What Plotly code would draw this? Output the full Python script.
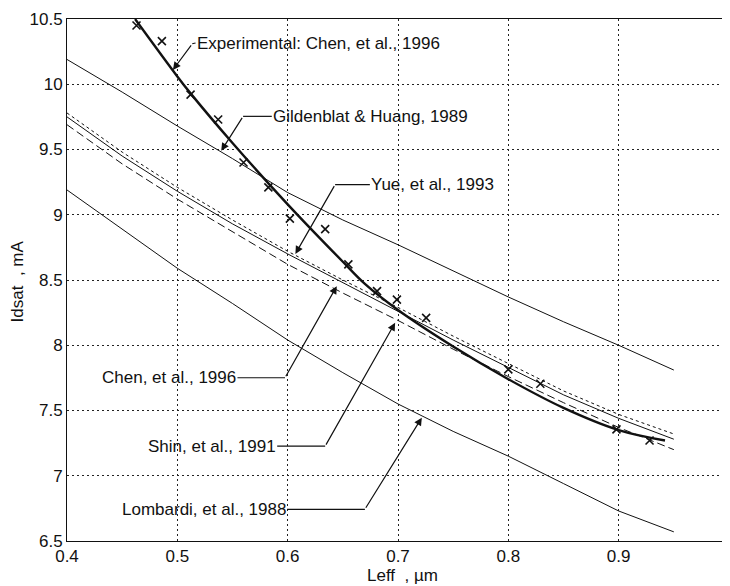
import plotly.graph_objects as go

# ---- data ----
x_model = [0.40, 0.45, 0.50, 0.55, 0.60, 0.65, 0.70, 0.75, 0.80, 0.85, 0.90, 0.95]
gildenblat = [10.19, 9.94, 9.68, 9.43, 9.17, 8.96, 8.77, 8.57, 8.37, 8.18, 8.00, 7.81]
yue = [9.78, 9.48, 9.21, 8.96, 8.72, 8.50, 8.29, 8.07, 7.86, 7.65, 7.47, 7.32]
chen = [9.75, 9.45, 9.18, 8.93, 8.70, 8.48, 8.26, 8.04, 7.83, 7.62, 7.44, 7.28]
shin = [9.69, 9.39, 9.12, 8.87, 8.62, 8.40, 8.19, 7.97, 7.76, 7.56, 7.37, 7.20]
lombardi = [9.19, 8.89, 8.59, 8.32, 8.04, 7.79, 7.55, 7.34, 7.15, 6.94, 6.73, 6.57]

fit_x = [0.4617, 0.50, 0.512, 0.55, 0.60, 0.65, 0.67, 0.70, 0.75, 0.80, 0.85, 0.90, 0.942]
fit_y = [10.5, 10.06, 9.93, 9.55, 9.08, 8.64, 8.47, 8.27, 7.99, 7.74, 7.52, 7.35, 7.27]

exp_x = [0.463, 0.486, 0.512, 0.537, 0.560, 0.5825, 0.602, 0.634, 0.655, 0.681,
         0.699, 0.7255, 0.800, 0.829, 0.898, 0.928]
exp_y = [10.45, 10.33, 9.92, 9.73, 9.40, 9.21, 8.97, 8.89, 8.62, 8.415,
         8.35, 8.21, 7.815, 7.705, 7.355, 7.27]

x_ticks = [0.4, 0.5, 0.6, 0.7, 0.8, 0.9, 1.0]
x_ticktext = ["0.4", "0.5", "0.6", "0.7", "0.8", "0.9", "1"]
y_ticks = [6.5, 7, 7.5, 8, 8.5, 9, 9.5, 10, 10.5]
y_ticktext = ["6.5", "7", "7.5", "8", "8.5", "9", "9.5", "10", "10.5"]

# label texts, text anchor, bend point and arrow tip
labels = [
    dict(text="Experimental: Chen, et al., 1996", side="left", tx=0.5165, ty=10.316,
         bx=0.5135, by=10.31, px=0.496, py=10.11),
    dict(text="Gildenblat & Huang, 1989", side="left", tx=0.5856, ty=9.754,
         bx=0.5596, by=9.754, px=0.5398, py=9.49),
    dict(text="Yue, et al., 1993", side="left", tx=0.6745, ty=9.231,
         bx=0.643, by=9.231, px=0.607, py=8.70),
    dict(text="Chen, et al., 1996", side="right", tx=0.5545, ty=7.751,
         bx=0.5976, by=7.751, px=0.6445, py=8.453),
    dict(text="Shin, et al., 1991", side="right", tx=0.5905, ty=7.227,
         bx=0.634, by=7.227, px=0.6974, py=8.172),
    dict(text="Lombardi, et al., 1988", side="right", tx=0.5995, ty=6.743,
         bx=0.670, by=6.743, px=0.7216, py=7.445),
]

FONT = "Liberation Sans, Arial, Helvetica, sans-serif"
INK = "#111111"

fig = go.Figure()

fig.add_trace(go.Scatter(x=x_model, y=gildenblat, mode="lines",
                         line=dict(color=INK, width=1), name="Gildenblat & Huang, 1989"))
fig.add_trace(go.Scatter(x=x_model, y=yue, mode="lines",
                         line=dict(color=INK, width=1, dash="3px,3px"), name="Yue, et al., 1993"))
fig.add_trace(go.Scatter(x=x_model, y=chen, mode="lines",
                         line=dict(color=INK, width=1), name="Chen, et al., 1996"))
fig.add_trace(go.Scatter(x=x_model, y=shin, mode="lines",
                         line=dict(color=INK, width=1, dash="8px,4px"), name="Shin, et al., 1991"))
fig.add_trace(go.Scatter(x=x_model, y=lombardi, mode="lines",
                         line=dict(color=INK, width=1), name="Lombardi, et al., 1988"))
fig.add_trace(go.Scatter(x=fit_x, y=fit_y, mode="lines", line_shape="spline",
                         line=dict(color=INK, width=2.4), name="Experimental fit"))
fig.add_trace(go.Scatter(x=exp_x, y=exp_y, mode="markers",
                         marker=dict(symbol="x-thin", size=8, line=dict(color=INK, width=1.6)),
                         name="Experimental: Chen, et al., 1996"))

annotations = []
shapes = []
for lb in labels:
    annotations.append(dict(x=lb["tx"], y=lb["ty"], xref="x", yref="y", text=lb["text"],
                            showarrow=False, xanchor=lb["side"], yanchor="middle",
                            font=dict(family=FONT, size=17, color=INK), borderpad=0))
    shapes.append(dict(type="line", xref="x", yref="y", x0=lb["tx"], y0=lb["ty"],
                       x1=lb["bx"], y1=lb["by"], line=dict(color=INK, width=1.2)))
    annotations.append(dict(x=lb["px"], y=lb["py"], xref="x", yref="y",
                            ax=lb["bx"], ay=lb["by"], axref="x", ayref="y", text="",
                            showarrow=True, arrowhead=2, arrowsize=1.3, arrowwidth=1.2,
                            arrowcolor=INK, standoff=0, startstandoff=0))

# axis titles
annotations.append(dict(x=0.507, y=-0.066, xref="paper", yref="paper", text="Leff  , µm",
                        showarrow=False, xanchor="center", yanchor="middle",
                        font=dict(family=FONT, size=17, color=INK)))
annotations.append(dict(x=-0.075, y=0.498, xref="paper", yref="paper", text="Idsat  , mA",
                        showarrow=False, xanchor="center", yanchor="middle", textangle=-90,
                        font=dict(family=FONT, size=17, color=INK)))

# page body adds an 8 px margin, so the figure is 8 px smaller each way
fig.update_layout(
    width=722, height=578,
    margin=dict(l=59, r=1, t=11, b=45),
    paper_bgcolor="white", plot_bgcolor="white",
    showlegend=False,
    annotations=annotations, shapes=shapes,
    font=dict(family=FONT, size=17, color=INK),
)
fig.update_xaxes(range=[0.4, 1.0], tickvals=x_ticks, ticktext=x_ticktext,
                 showgrid=True, gridcolor="#222222", gridwidth=1, griddash="2px,3px",
                 showline=True, linecolor=INK, linewidth=1, mirror=True,
                 ticks="", zeroline=False, tickfont=dict(family=FONT, size=17, color=INK))
fig.update_yaxes(range=[6.5, 10.5], tickvals=y_ticks, ticktext=y_ticktext,
                 showgrid=True, gridcolor="#222222", gridwidth=1, griddash="2px,3px",
                 showline=True, linecolor=INK, linewidth=1, mirror=True,
                 ticks="", zeroline=False, tickfont=dict(family=FONT, size=17, color=INK))

fig.write_html("out.html")
